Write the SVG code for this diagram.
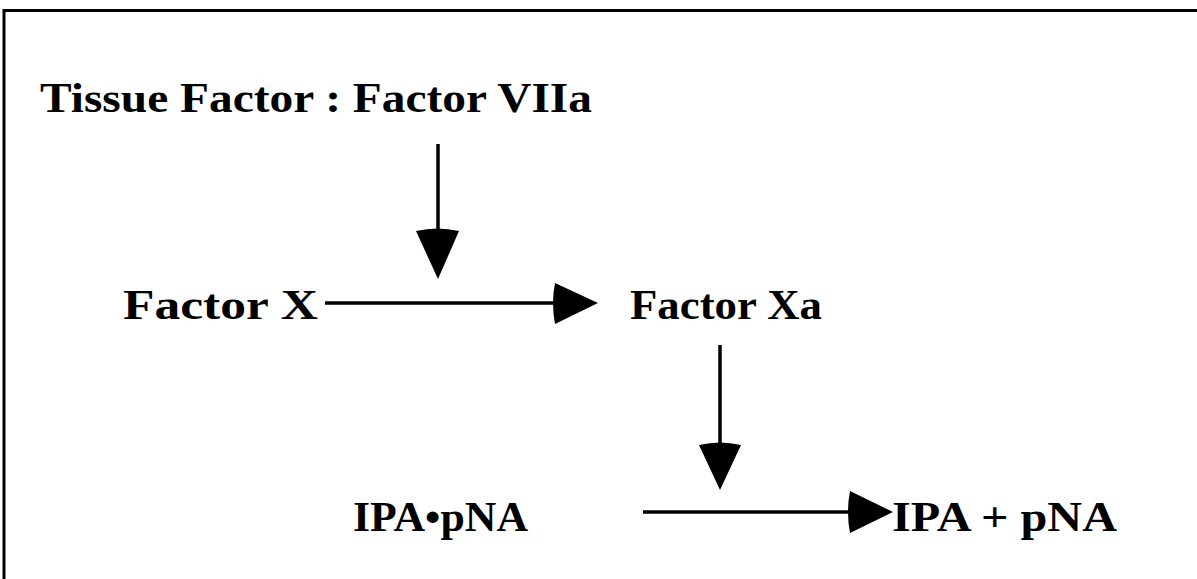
<svg xmlns="http://www.w3.org/2000/svg" width="1197" height="579" viewBox="0 0 1197 579">
<style>
.t{font-family:"Liberation Serif","Times New Roman",serif;font-weight:bold;font-size:42px;fill:#000}
.ln{stroke:#000;stroke-width:3.5;fill:none}
.hd{fill:#000;stroke:none}
</style>
<rect width="1197" height="579" fill="#fff"/>
<path d="M4,579 V10.5 H1197" stroke="#000" stroke-width="3" fill="none"/>
<g id="tf-viia"><text class="t" x="40" y="112" textLength="552" lengthAdjust="spacingAndGlyphs">Tissue Factor : Factor VIIa</text></g>
<g id="factor-x"><text class="t" x="123" y="319" textLength="195" lengthAdjust="spacingAndGlyphs">Factor  X</text></g>
<g id="factor-xa"><text class="t" x="630" y="319" textLength="192" lengthAdjust="spacingAndGlyphs">Factor  Xa</text></g>
<g id="ipa-pna"><text class="t" x="353" y="531" textLength="175" lengthAdjust="spacingAndGlyphs">IPA•pNA</text></g>
<g id="ipa-plus-pna"><text class="t" x="892" y="531" textLength="225" lengthAdjust="spacingAndGlyphs">IPA + pNA</text></g>
<g id="connectors">
<line class="ln" x1="438" y1="144" x2="438" y2="232"/>
<path class="hd" d="M416,231 Q437,226 459,231 L438,279 Z"/>
<line class="ln" x1="325" y1="303" x2="558" y2="303"/>
<path class="hd" d="M555,283 Q551,303 555,324 L598,303 Z"/>
<line class="ln" x1="720" y1="345" x2="720" y2="446"/>
<path class="hd" d="M699,445 Q720,440 741,445 L720,490 Z"/>
<line class="ln" x1="643" y1="512" x2="852" y2="512"/>
<path class="hd" d="M850,491 Q846,512 850,533 L893,512 Z"/>
</g>
</svg>
